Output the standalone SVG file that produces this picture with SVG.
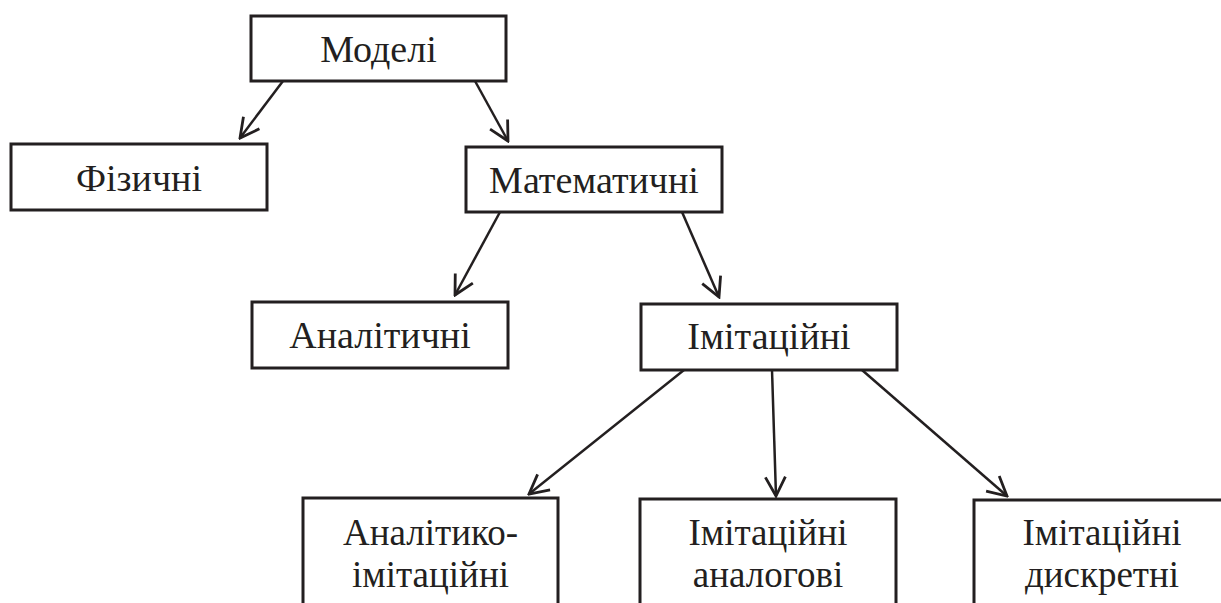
<svg xmlns="http://www.w3.org/2000/svg" width="1221" height="603" viewBox="0 0 1221 603">
  <style>
    .box { fill: #ffffff; stroke: #231f20; stroke-width: 3; }
    .label { font-family: "Liberation Serif", "DejaVu Serif", serif; font-size: 38px; fill: #231f20; text-anchor: middle; }
    .label2 { font-family: "Liberation Serif", "DejaVu Serif", serif; font-size: 37px; fill: #231f20; text-anchor: middle; }
    .edge { stroke: #231f20; stroke-width: 2.5; fill: none; marker-end: url(#arrow); }
  </style>
  <defs>
    <marker id="arrow" markerUnits="userSpaceOnUse" viewBox="-22 -12 24 24" refX="0" refY="0" markerWidth="24" markerHeight="24" orient="auto">
      <path d="M-19,-10 L0,0 L-19,10" fill="none" stroke="#231f20" stroke-width="2.8" stroke-linejoin="miter"/>
    </marker>
  </defs>

  <rect width="1221" height="603" fill="#ffffff"/>

  <g id="connectors">
    <line class="edge" x1="283" y1="81" x2="240" y2="138"/>
    <line class="edge" x1="475" y1="81" x2="508" y2="141"/>
    <line class="edge" x1="500" y1="212" x2="455" y2="295"/>
    <line class="edge" x1="682" y1="212" x2="719" y2="297"/>
    <line class="edge" x1="684" y1="370" x2="529" y2="494"/>
    <line class="edge" x1="772" y1="370" x2="776" y2="496"/>
    <line class="edge" x1="862" y1="370" x2="1007" y2="496"/>
  </g>

  <g id="node-modeli">
    <rect class="box" x="251" y="16" width="255" height="65"/>
    <text class="label" x="378.5" y="62">Моделі</text>
  </g>

  <g id="node-fizychni">
    <rect class="box" x="11" y="144" width="256" height="66"/>
    <text class="label" x="139" y="191">Фізичні</text>
  </g>

  <g id="node-matematychni">
    <rect class="box" x="466" y="147" width="256" height="65"/>
    <text class="label" x="594" y="193">Математичні</text>
  </g>

  <g id="node-analitychni">
    <rect class="box" x="252" y="302" width="256" height="66"/>
    <text class="label" x="380" y="348">Аналітичні</text>
  </g>

  <g id="node-imitatsiini">
    <rect class="box" x="641" y="304" width="256" height="66"/>
    <text class="label" x="769" y="349">Імітаційні</text>
  </g>

  <g id="node-analityko-imitatsiini">
    <rect class="box" x="303" y="498" width="255" height="120"/>
    <text class="label2" x="430.5" y="545">Аналітико-</text>
    <text class="label2" x="430.5" y="587">імітаційні</text>
  </g>

  <g id="node-imitatsiini-analohovi">
    <rect class="box" x="640" y="499" width="256" height="120"/>
    <text class="label2" x="768" y="545">Імітаційні</text>
    <text class="label2" x="768" y="587">аналогові</text>
  </g>

  <g id="node-imitatsiini-dyskretni">
    <rect class="box" x="974" y="500" width="256" height="120"/>
    <text class="label2" x="1102" y="545">Імітаційні</text>
    <text class="label2" x="1102" y="587">дискретні</text>
  </g>
</svg>
